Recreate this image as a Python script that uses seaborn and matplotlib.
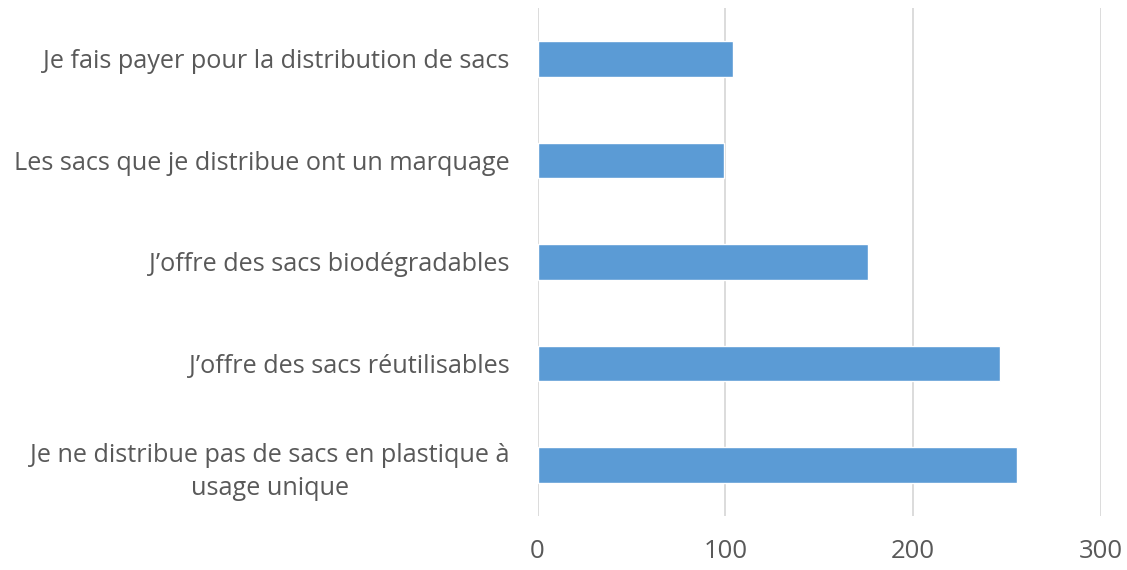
import pandas as pd
import matplotlib.pyplot as plt
import seaborn as sns

# Data
categories = [
    "Je fais payer pour la distribution de sacs",
    "Les sacs que je distribue ont un marquage",
    "J\u2019offre des sacs biodégradables",
    "J\u2019offre des sacs réutilisables",
    "Je ne distribue pas de sacs en plastique à\nusage unique",
]
counts = [104, 99, 176, 246, 255]

df = pd.DataFrame({"Reponse": categories, "Nombre": counts})

sns.set_theme(style="white")
plt.rcParams["font.family"] = ["Open Sans", "DejaVu Sans"]

fig = plt.figure(figsize=(11.27, 5.70), dpi=100)
ax = fig.add_axes([0.477, 0.095, 0.500, 0.891])

sns.barplot(data=df, x="Nombre", y="Reponse", color="#5B9BD5", width=0.35,
            saturation=1, ax=ax, zorder=3)

ax.set_xlim(0, 300)
ax.set_xticks([0, 100, 200, 300])
ax.grid(axis="x", color="#D9D9D9", linewidth=1.3, zorder=0)
ax.set_xlabel("")
ax.set_ylabel("")
for s in ax.spines.values():
    s.set_visible(False)

ax.tick_params(axis="x", length=0, pad=17, labelsize=18.5, labelcolor="#595959")
ax.tick_params(axis="y", length=0, pad=20, labelsize=18.2, labelcolor="#595959")
for lbl in ax.get_yticklabels():
    lbl.set_multialignment("center")
    lbl.set_linespacing(1.4)

fig.savefig("out.png", dpi=100)
